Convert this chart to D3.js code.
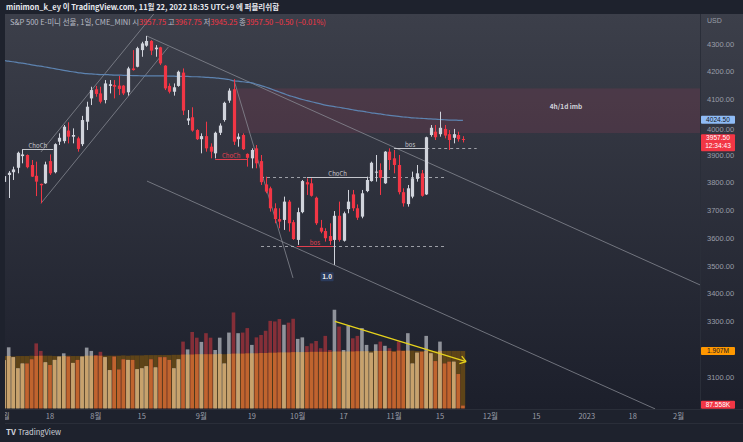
<!DOCTYPE html>
<html>
<head>
<meta charset="utf-8">
<script src="https://cdn.jsdelivr.net/npm/d3@7"></script>
<style>
  body { margin: 0; background: #1e222d; }
  svg { display: block; font-family: "Noto Sans CJK KR", "Noto Sans", sans-serif; }
</style>
</head>
<body>
<div id="chart"></div>
<script>
// daily candles, 2022-07-01 .. 2022-11-22 (index = trading day)
const opens  = [3803,3828,3838,3854,3896,3900,3864,3825,3796,3798,3878,3838,3948,3950,3988,3966,3960,3939,4020,4104,
                4137,4122,4098,4149,4152,4150,4150,4126,4212,4218,4278,4294,4311,4281,4288,4222,4149,4128,4149,4197,
                4024,4036,3990,3957,3968,3930,3906,3980,4026,4096,4137,3957,3972,3904,3888,3924,3878,3794,3780,3708,
                3669,3666,3732,3658,3594,3694,3802,3798,3746,3638,3626,3608,3594,3681,3591,3705,3758,3708,3678,3770,
                3806,3838,3846,3798,3912,3888,3864,3766,3723,3750,3814,3834,3758,3972,3984,3975,3994,3975,3962,3972,3957.75];
const highs  = [3828,3842,3858,3912,3921,3902,3882,3876,3797,3876,3902,3942,3978,4008,4018,3996,3966,4041,4092,4146,
                4149,4146,4170,4170,4170,4185,4152,4218,4278,4290,4308,4329,4314,4296,4290,4224,4158,4158,4204,4212,
                4062,4072,3993,3978,4020,3942,3984,4014,4092,4140,4173,3978,3978,3906,3924,3936,3900,3822,3786,3726,
                3708,3750,3738,3666,3710,3810,3816,3816,3750,3666,3636,3654,3698,3732,3696,3774,3774,3722,3774,3822,
                3876,3900,3870,3914,3924,3918,3900,3780,3792,3840,3864,3846,3966,4008,4008,4056,4008,3990,3994,3984,3967.75];
const lows   = [3781,3745,3810,3834,3870,3852,3821,3752,3726,3796,3828,3834,3936,3942,3942,3942,3912,3932,3990,4080,
                4110,4086,4086,4122,4104,4116,4116,4114,4204,4216,4254,4290,4260,4254,4224,4134,4122,4114,4146,4044,
                4008,3984,3954,3906,3912,3888,3888,3972,4020,4088,3936,3930,3918,3858,3852,3852,3792,3762,3696,3654,
                3636,3630,3624,3594,3576,3690,3756,3750,3648,3618,3588,3576,3504,3588,3588,3690,3698,3666,3672,3766,
                3804,3804,3756,3796,3846,3834,3758,3714,3714,3744,3804,3750,3756,3966,3954,3966,3960,3918,3942,3948,3945.25];
const closes = [3824,3836,3848,3908,3902,3856,3822,3804,3791,3866,3834,3939,3962,4002,3966,3972,3922,4026,4074,4134,
                4120,4092,4158,4155,4146,4138,4122,4212,4206,4285,4302,4311,4276,4287,4230,4140,4128,4144,4200,4060,
                4032,3988,3957,3968,3924,3912,3980,4006,4088,4132,3948,3966,3921,3890,3918,3870,3802,3768,3708,3669,
                3660,3732,3654,3597,3694,3806,3794,3753,3654,3624,3600,3590,3681,3594,3690,3732,3708,3674,3762,3810,
                3872,3840,3818,3912,3882,3864,3766,3726,3780,3816,3834,3753,3964,3998,3964,3998,3970,3954,3975,3957,3957.5];
// long moving average on price
const priceMA = [4241,4238,4236,4233,4231,4228,4225,4222,4220,4217,4214,4211,4208,4205,4202,4200,4197,4195,4193,4192,
                 4191,4190,4190,4189,4188,4188,4187,4187,4186,4186,4185,4185,4185,4185,4185,4185,4184,4184,4183,4183,
                 4183,4182,4182,4181,4180,4179,4178,4176,4174,4172,4167,4166,4164,4162,4160,4155,4150,4145,4139,4133,
                 4127,4121,4115,4110,4105,4100,4096,4092,4088,4084,4080,4077,4074,4072,4069,4066,4063,4060,4058,4055,
                 4052,4050,4048,4045,4043,4041,4039,4037,4036,4034,4033,4032,4031,4030,4029,4028,4027,4026,4026,4025,4024.5];
// volume (millions) and its moving average
const volume = [1.60,2.03,1.70,1.33,1.49,1.49,1.63,2.16,1.91,1.53,1.44,1.61,1.72,1.83,1.72,1.51,1.61,1.72,2.02,1.91,
                1.77,1.88,1.70,1.27,1.72,1.29,1.63,1.61,1.61,1.30,1.33,1.40,1.63,1.36,1.70,1.70,1.61,1.33,1.63,2.22,
                1.96,2.54,2.35,2.21,2.50,2.35,1.94,2.35,1.49,2.52,3.19,2.50,2.52,2.67,2.11,2.36,2.44,2.58,2.91,2.89,
                2.97,2.78,2.85,2.98,2.31,2.36,2.07,2.16,2.24,2.00,2.41,1.94,3.28,2.72,1.94,2.75,2.33,2.41,2.67,2.11,
                1.85,2.13,2.22,2.08,2.00,1.88,2.22,1.91,2.50,1.49,1.85,1.88,2.41,1.83,1.57,2.22,1.49,1.55,1.55,1.14,0.0876];
const volumeMA = [1.74,1.74,1.73,1.74,1.74,1.74,1.75,1.74,1.75,1.75,1.75,1.74,1.74,1.74,1.75,1.74,1.74,1.74,1.75,1.75,
                  1.75,1.75,1.75,1.75,1.75,1.75,1.76,1.75,1.76,1.76,1.76,1.77,1.77,1.77,1.77,1.77,1.77,1.78,1.78,1.79,
                  1.79,1.79,1.80,1.80,1.80,1.80,1.80,1.81,1.80,1.81,1.82,1.82,1.82,1.83,1.83,1.83,1.84,1.84,1.85,1.85,
                  1.86,1.86,1.86,1.87,1.87,1.87,1.87,1.88,1.88,1.88,1.88,1.88,1.89,1.89,1.89,1.89,1.89,1.90,1.90,1.90,
                  1.90,1.91,1.91,1.91,1.91,1.91,1.92,1.92,1.92,1.92,1.91,1.91,1.91,1.91,1.91,1.91,1.91,1.91,1.91,1.91,1.907];

const tickIdx = [0, 10, 20, 30, 43, 54, 64, 74, 85, 95, 106, 116, 127, 137, 147];
const tickLbl = ["7월","18","8월","15","9월","19","10월","17","11월","15","12월","15","2023","18","2월"];
// labels hidden behind the value tags (3000, 3200) are left out
const priceTicks = [3100,3300,3400,3500,3600,3700,3800,3900,4000,4100,4200,4300];

const W = 743, H = 442;
const paneL = 5, paneR = 700, paneT = 14, paneB = 409;
const numFont = "'Liberation Sans', Arial, sans-serif";

const svg = d3.select("#chart").append("svg").attr("width", W).attr("height", H);
const defs = svg.append("defs");
const grad = defs.append("linearGradient").attr("id", "bg").attr("x1", 0).attr("y1", 0).attr("x2", 0).attr("y2", 1);
grad.append("stop").attr("offset", "0%").attr("stop-color", "#3c3f4a");
grad.append("stop").attr("offset", "100%").attr("stop-color", "#1c1f2b");
defs.append("clipPath").attr("id", "pane").append("rect")
  .attr("x", paneL).attr("y", paneT).attr("width", paneR - paneL).attr("height", paneB - paneT);
defs.append("clipPath").attr("id", "pane2").append("rect")
  .attr("x", paneL).attr("y", paneB).attr("width", paneR - paneL).attr("height", 14);

svg.append("rect").attr("width", W).attr("height", H).attr("fill", "#1e222d");
svg.append("rect").attr("x", paneL).attr("y", paneT).attr("width", W - paneL).attr("height", paneB - paneT).attr("fill", "url(#bg)");
svg.append("line").attr("x1", paneR + 0.5).attr("x2", paneR + 0.5).attr("y1", paneT).attr("y2", paneB).attr("stroke", "#2a2e39");
svg.append("line").attr("x1", paneL).attr("x2", W).attr("y1", paneB + 0.5).attr("y2", paneB + 0.5).attr("stroke", "#2a2e39");
svg.append("line").attr("x1", paneL).attr("x2", W).attr("y1", 423.5).attr("y2", 423.5).attr("stroke", "#2a2e39");

const x = d3.scaleLinear().domain([0, 100]).range([4.1, 462.9]);
const y = d3.scaleLinear().domain([3000, 4300]).range([404.75, 44]);
const yv = d3.scaleLinear().domain([0, 1.907]).range([408.3, 351]);
const bw = 3.2, step = x(1) - x(0);

const plot = svg.append("g").attr("clip-path", "url(#pane)");

// imbalance zone
plot.append("rect").attr("x", x(50.1)).attr("y", y(4140)).attr("width", paneR - x(50.1)).attr("height", y(3979) - y(4140))
  .attr("fill", "#7a3a52").attr("opacity", 0.32);
plot.append("text").attr("x", 566).attr("y", y(4066)).attr("text-anchor", "middle").attr("font-size", 6.5)
  .attr("font-weight", "bold").attr("fill", "#d1d4dc").text("4h/1d imb");

// volume
const idx = d3.range(opens.length);
const vg = plot.append("g");
vg.selectAll(".ma").data(idx).join("rect")
  .attr("x", i => x(i) - step / 2).attr("width", step)
  .attr("y", i => yv(volumeMA[i])).attr("height", i => yv(0) - yv(volumeMA[i]))
  .attr("fill", "#5e4418");
vg.selectAll(".vol").data(idx).join("rect")
  .attr("x", i => x(i) - step / 2 + 0.5).attr("width", step - 1)
  .attr("y", i => yv(volume[i])).attr("height", i => yv(0) - yv(volume[i]))
  .attr("fill", i => closes[i] >= opens[i] ? "#8f929a" : "#852f38");
vg.selectAll(".volin").data(idx).join("rect")
  .attr("x", i => x(i) - step / 2 + 0.5).attr("width", step - 1)
  .attr("y", i => yv(Math.min(volume[i], volumeMA[i]))).attr("height", i => yv(0) - yv(Math.min(volume[i], volumeMA[i])))
  .attr("fill", i => closes[i] >= opens[i] ? "#c8a26c" : "#c0642e");

// trend lines
const trend = [
  [8.04, 3911, 32.6, 4408], [8.04, 3726, 35.8, 4289], [31.08, 4329, 151.8, 3431],
  [31.15, 3806, 141.9, 2985], [50.1, 4170, 62.97, 3457]
];
plot.selectAll(".trend").data(trend).join("line")
  .attr("x1", d => x(d[0])).attr("y1", d => y(d[1])).attr("x2", d => x(d[2])).attr("y2", d => y(d[3]))
  .attr("stroke", "#8f929b").attr("stroke-width", 0.9).attr("opacity", 0.8);

// price MA
plot.append("path").datum(idx)
  .attr("d", d3.line().x(i => x(i)).y(i => y(priceMA[i])).curve(d3.curveMonotoneX))
  .attr("fill", "none").attr("stroke", "#5d83b0").attr("stroke-width", 1.2);

// structure levels
const dashed = [[56, 96.1, 3820], [56, 96.1, 3572], [92, 103, 3927]];
plot.selectAll(".dash").data(dashed).join("line")
  .attr("x1", d => x(d[0])).attr("x2", d => x(d[1])).attr("y1", d => Math.round(y(d[2])) + 0.5).attr("y2", d => Math.round(y(d[2])) + 0.5)
  .attr("stroke", "#c4c6cc").attr("stroke-dasharray", "3,3").attr("opacity", 0.75);
const levels = [
  [4, 10.7, 3923, "ChoCh", "#c4c6cc"], [46, 53, 3885, "ChoCh", "#e0404f"],
  [66, 79.4, 3820, "ChoCh", "#c4c6cc"], [63.8, 71.7, 3572, "bos", "#e0404f"], [85, 92, 3927, "bos", "#c4c6cc"]
];
levels.forEach(d => {
  const yy = Math.round(y(d[2])) + 0.5;
  plot.append("line").attr("x1", x(d[0])).attr("x2", x(d[1])).attr("y1", yy).attr("y2", yy)
    .attr("stroke", d[4]).attr("stroke-width", 1);
  plot.append("text").attr("x", (x(d[0]) + x(d[1])) / 2).attr("y", yy - 1.5).attr("text-anchor", "middle")
    .attr("font-size", 6).attr("fill", d[4]).text(d[3]);
});

// candles
const cg = plot.append("g");
cg.selectAll(".wick").data(idx).join("line")
  .attr("x1", i => Math.round(x(i)) + 0.5).attr("x2", i => Math.round(x(i)) + 0.5)
  .attr("y1", i => y(highs[i])).attr("y2", i => y(lows[i]))
  .attr("stroke", i => closes[i] >= opens[i] ? "#d1d4dc" : "#f23645");
cg.selectAll(".body").data(idx).join("rect")
  .attr("x", i => Math.round(x(i)) + 0.5 - bw / 2).attr("width", bw)
  .attr("y", i => y(Math.max(opens[i], closes[i])))
  .attr("height", i => Math.max(1, y(Math.min(opens[i], closes[i])) - y(Math.max(opens[i], closes[i]))))
  .attr("fill", i => closes[i] >= opens[i] ? "#d1d4dc" : "#f23645");

// yellow arrow on volume
const arrow = [72.1, 2.89, 100.7, 1.555];
const ax1 = x(arrow[0]), ay1 = yv(arrow[1]), ax2 = x(arrow[2]), ay2 = yv(arrow[3]);
const ang = Math.atan2(ay2 - ay1, ax2 - ax1);
plot.append("line").attr("x1", ax1).attr("y1", ay1).attr("x2", ax2).attr("y2", ay2)
  .attr("stroke", "#e6d21c").attr("stroke-width", 1.3);
[-0.6, 0.6].forEach(a => {
  plot.append("line").attr("x1", ax2).attr("y1", ay2)
    .attr("x2", ax2 - 7 * Math.cos(ang + a)).attr("y2", ay2 - 7 * Math.sin(ang + a))
    .attr("stroke", "#e6d21c").attr("stroke-width", 1.3);
});

// small label box
const sx = x(70.4), sy = y(3461);
plot.append("rect").attr("x", sx - 6.5).attr("y", sy - 4.5).attr("width", 13).attr("height", 9).attr("rx", 1).attr("fill", "#2b3b5c");
plot.append("text").attr("x", sx).attr("y", sy + 2.5).attr("text-anchor", "middle").attr("font-size", 6.5)
  .attr("font-weight", "bold").attr("fill", "#e8e8ec").text("1.0");

// right price axis
const axisG = svg.append("g").attr("font-size", 7.5).attr("font-family", numFont).attr("fill", "#9a9ea8");
axisG.selectAll("text").data(priceTicks).join("text")
  .attr("x", 707).attr("y", d => y(d) + (d === 4000 ? 4.7 : 2.7)).text(d => d3.format(".2f")(d));
svg.append("text").attr("x", 707).attr("y", 23).attr("font-size", 7).attr("font-family", numFont).attr("fill", "#9a9ea8").text("USD");

function tag(yc, h, fill, lines, color) {
  svg.append("rect").attr("x", 701).attr("y", yc - h / 2).attr("width", 34).attr("height", h).attr("rx", 1).attr("fill", fill);
  lines.forEach((t, k) => svg.append("text").attr("x", 718).attr("y", yc - h / 2 + 6.0 + k * 7.8)
    .attr("text-anchor", "middle").attr("font-size", 6.6).attr("font-family", numFont).attr("fill", color).text(t));
}
tag(y(4024.5) - 0.8, 8, "#8fbcf6", ["4024.50"], "#131722");
tag(y(3957.5) + 3.8, 17, "#f23645", ["3957.50", "12:34:43"], "#ffffff");
tag(yv(1.907), 8, "#ff9800", ["1.907M"], "#131722");
tag(yv(0.0876) - 1, 8, "#f23645", ["87.558K"], "#ffffff");

// time axis
svg.append("g").attr("font-size", 7.5).attr("fill", "#9a9ea8").attr("clip-path", "url(#pane2)")
  .selectAll("text").data(tickIdx).join("text")
  .attr("x", i => x(i)).attr("y", 419).attr("text-anchor", "middle").text((i, k) => tickLbl[k]);

// header
svg.append("text").attr("x", 6).attr("y", 9.5).attr("font-size", 7.5).attr("font-weight", "bold").attr("fill", "#e6e8ee")
  .text("minimon_k_ey 이 TradingView.com, 11월 22, 2022 18:35 UTC+9 에 퍼블리쉬함");
const legend = svg.append("text").attr("x", 10).attr("y", 25).attr("font-size", 7.5).attr("fill", "#b8bbc4");
legend.append("tspan").text("S&P 500 E-미니 선물, 1일, CME_MINI  시");
legend.append("tspan").attr("fill", "#f23645").text("3957.75");
legend.append("tspan").text("  고");
legend.append("tspan").attr("fill", "#f23645").text("3967.75");
legend.append("tspan").text("  저");
legend.append("tspan").attr("fill", "#f23645").text("3945.25");
legend.append("tspan").text("  종");
legend.append("tspan").attr("fill", "#f23645").text("3957.50  −0.50 (−0.01%)");

// footer logo
svg.append("text").attr("x", 6).attr("y", 435).attr("font-size", 8).attr("font-weight", "bold").attr("fill", "#d1d4dc").text("TV");
svg.append("text").attr("x", 18).attr("y", 435).attr("font-size", 7.5).attr("fill", "#d1d4dc").text("TradingView");
</script>
</body>
</html>
